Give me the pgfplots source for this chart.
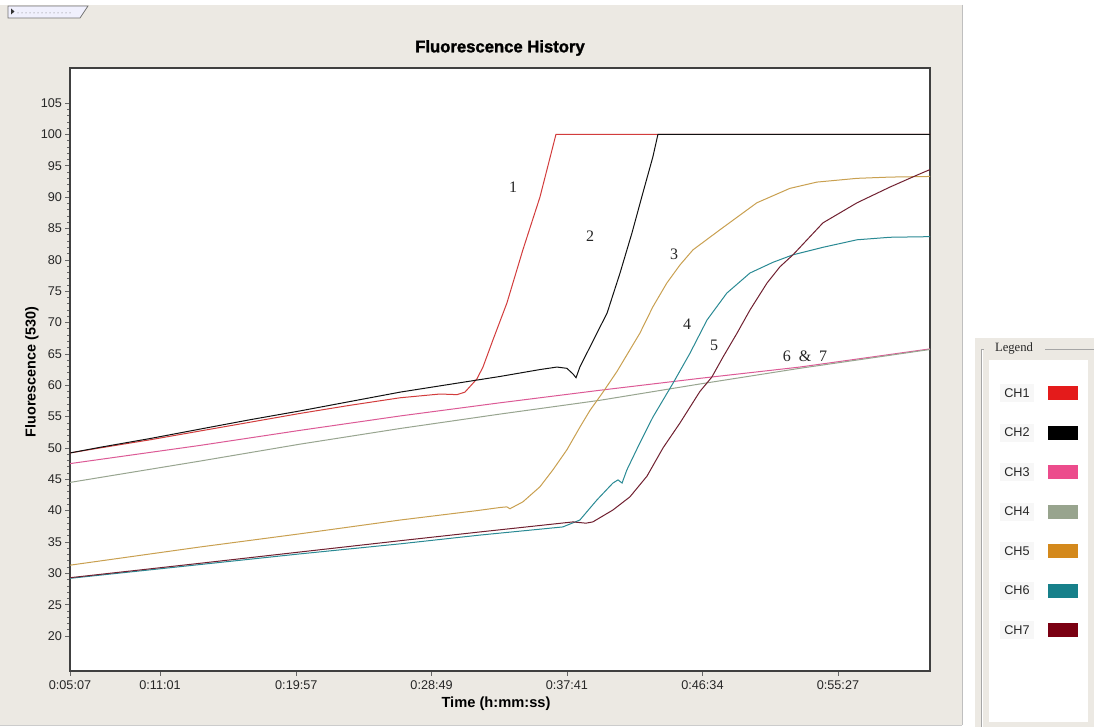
\documentclass[border=0pt]{standalone}
\usepackage{fontspec}
\setmainfont{Liberation Sans}
\newfontfamily\seriffont{Liberation Serif}
\newfontfamily\titlefont[BoldFeatures={FakeBold=1.6}]{Liberation Sans}
\usepackage{pgfplots}
\pgfplotsset{compat=1.18}
\definecolor{panel}{HTML}{ECE9E3}
\definecolor{cA}{HTML}{D23C3C}
\definecolor{cB}{HTML}{111111}
\definecolor{cC}{HTML}{DC5A96}
\definecolor{cD}{HTML}{98A590}
\definecolor{cE}{HTML}{C9A050}
\definecolor{cF}{HTML}{2A8A94}
\definecolor{cG}{HTML}{702030}
\definecolor{lA}{HTML}{E41B1B}
\definecolor{lB}{HTML}{000000}
\definecolor{lC}{HTML}{EC4C8C}
\definecolor{lD}{HTML}{98A48E}
\definecolor{lE}{HTML}{D4891C}
\definecolor{lF}{HTML}{17808A}
\definecolor{lG}{HTML}{7A0012}

\pgfplotstableread{
x y
307 49.2
425 50.0
622 51.3
818 52.7
1015 54.1
1211 55.5
1408 56.8
1605 58.0
1762 58.6
1829 58.5
1860 58.9
1907 61.0
1931 62.9
1970 67.2
2025 73.1
2088 81.6
2155 90.0
2218 100
3689 100
}\chA
\pgfplotstableread{
x y
307 49.2
425 50.1
622 51.5
818 53.0
1015 54.5
1211 55.9
1408 57.4
1605 58.9
1762 59.9
1998 61.4
2155 62.5
2222 62.9
2261 62.7
2285 61.8
2297 61.2
2312 62.9
2379 68.3
2419 71.5
2470 77.9
2517 84.3
2560 90.7
2599 96.4
2619 100
3689 100
}\chB
\pgfplotstableread{
x y
307 47.5
818 50.4
1211 52.8
1605 55.1
1998 57.2
2391 59.2
2784 61.1
3177 62.9
3689 65.8
}\chC
\pgfplotstableread{
x y
307 44.5
818 47.9
1211 50.6
1605 53.1
1998 55.4
2391 57.6
2784 60.2
3177 62.7
3689 65.7
}\chD
\pgfplotstableread{
x y
307 31.3
818 34.2
1211 36.3
1605 38.5
1907 40.0
1998 40.5
2025 40.6
2037 40.3
2088 41.4
2155 43.8
2206 46.5
2261 49.7
2312 53.3
2352 56.0
2403 58.9
2458 62.2
2548 68.3
2599 72.5
2654 76.3
2706 79.2
2757 81.6
2863 84.8
3008 89.1
3138 91.4
3244 92.4
3402 93.0
3531 93.2
3689 93.3
}\chE
\pgfplotstableread{
x y
307 29.2
818 31.4
1211 33.1
1605 34.7
1919 36.1
2245 37.4
2312 38.5
2379 41.7
2442 44.4
2462 44.9
2478 44.4
2497 46.5
2548 50.8
2599 54.9
2678 60.3
2745 65.1
2812 70.4
2890 74.7
2981 77.9
3071 79.6
3150 80.8
3268 82.0
3402 83.2
3531 83.6
3689 83.7
}\chF
\pgfplotstableread{
x y
307 29.3
818 31.6
1211 33.4
1605 35.2
1919 36.6
2285 38.2
2336 38.0
2363 38.2
2442 40.1
2509 42.2
2576 45.5
2639 50.0
2706 54.0
2784 59.0
2831 61.3
2875 64.5
2930 68.3
2981 72.0
3048 76.3
3099 78.9
3150 80.8
3268 85.9
3402 89.1
3531 91.6
3637 93.5
3689 94.4
}\chG

\begin{document}
\begin{tikzpicture}
\begin{scope}[x=0.75pt,y=-0.75pt]
\path[use as bounding box] (0,0) rectangle (1094,727);
\fill[white] (0,0) rectangle (1094,727);
\fill[panel] (0,5) rectangle (962,725);
\draw[black!25] (962,5) -- (962,725);
\draw[black!20] (0,725.5) -- (962,725.5);
% top-left tab
\fill[black!12!blue!6!white] (8,6) -- (88,6) -- (80,18) -- (8,18) -- cycle;
\draw[black!55, line width=0.6pt] (8,6) -- (88,6) -- (80,18) -- (8,18) -- cycle;
\fill[black!80] (11,8.5) -- (14.5,11.5) -- (11,14.5) -- cycle;
\foreach \i in {0,...,13} {\fill[black!60] (18+\i*4,13) circle (0.5);}
% legend panel
\fill[panel] (975,338) rectangle (1094,727);
\fill[white] (989,360) rectangle (1088,722);
\draw[black!35] (981,349) -- (984,349);
\draw[black!35] (1045,349) -- (1094,349);
\draw[black!35] (981,349) -- (981,727);
\draw[white] (982,350) -- (982,727);
\node[font=\seriffont\fontsize{9.5}{11}\selectfont, text=black!85] at (1014,348) {Legend};
\foreach \n/\c [count=\i from 0] in {CH1/lA,CH2/lB,CH3/lC,CH4/lD,CH5/lE,CH6/lF,CH7/lG} {
  \fill[black!3] (1000,393+\i*39.5-9) rectangle (1034,393+\i*39.5+9);
  \node[font=\fontsize{9.5}{11}\selectfont, text=black!85] at (1017,393+\i*39.5) {\n};
  \fill[\c] (1048,393+\i*39.5-7) rectangle (1078,393+\i*39.5+7);
}
\end{scope}

\begin{axis}[
  at={(52.5pt,-503.25pt)}, anchor=south west,
  scale only axis, width=645pt, height=452.25pt,
  xmin=307, xmax=3689, ymin=14.42, ymax=110.6,
  xtick={307,661,1197,1729,2261,2794,3327},
  xticklabels={0:05:07,0:11:01,0:19:57,0:28:49,0:37:41,0:46:34,0:55:27},
  ytick={20,25,...,105},
  minor y tick num=4,
  xtick pos=bottom, ytick pos=left,
  tick align=outside,
  major tick length=3.5pt, minor tick length=2pt,
  every tick/.style={draw=black!60, line width=0.5pt},
  axis line style={draw=black!75, line width=0.9pt},
  tick label style={font=\fontsize{9.5}{11}\selectfont, text=black!85},
  yticklabel style={/pgf/number format/assume math mode=true, xshift=1pt},
  axis background/.style={fill=white},
  every axis plot/.append style={line width=0.75pt, no marks},
]
\addplot[cA] table {\chA};
\addplot[cC] table {\chC};
\addplot[cD] table {\chD};
\addplot[cE] table {\chE};
\addplot[cF] table {\chF};
\addplot[cG] table {\chG};
\addplot[cB] table {\chB};
\end{axis}

\begin{scope}[x=0.75pt,y=-0.75pt]
\node[font=\titlefont\bfseries\fontsize{12.5}{14}\selectfont] at (500,48) {Fluorescence History};
\node[font=\bfseries\fontsize{11}{13}\selectfont] at (496,704) {Time (h:mm:ss)};
\node[font=\bfseries\fontsize{10.8}{13}\selectfont, rotate=90] at (32,372) {Fluorescence (530)};
\begin{scope}[every node/.style={font=\seriffont\fontsize{12}{14}\selectfont, text=black!85}]
\node at (513,187) {1};
\node at (590,236) {2};
\node at (674,254) {3};
\node at (687,324) {4};
\node at (714,345) {5};
\node at (805,356) {6\ \ \&\ \ 7};
\end{scope}
\end{scope}
\end{tikzpicture}
\end{document}
